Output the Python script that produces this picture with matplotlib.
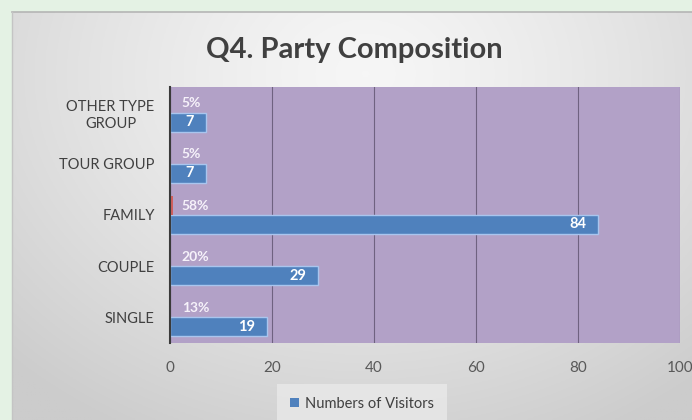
import numpy as np
import matplotlib.pyplot as plt
from matplotlib.patches import Patch

categories = ["SINGLE", "COUPLE", "FAMILY", "TOUR GROUP", "OTHER TYPE\nGROUP"]
visitors = [19, 29, 84, 7, 7]
share = [0.13, 0.20, 0.58, 0.05, 0.05]
share_labels = ["13%", "20%", "58%", "5%", "5%"]
x_ticks = [0, 20, 40, 60, 80, 100]

W, H = 692, 420
plt.rcParams['font.family'] = ['Lato', 'DejaVu Sans']

fig = plt.figure(figsize=(W / 100, H / 100), dpi=100)
fig.patch.set_facecolor('#e4f2e4')

# grey radial panel behind the chart
bg = fig.add_axes([12 / W, 0, 1 - 12 / W, 1 - 12 / H])
yy, xx = np.mgrid[0:1:200j, 0:1:300j]
r = np.sqrt(((xx - 0.52) / 0.75) ** 2 + ((yy - 0.15) / 1.0) ** 2)
r = np.clip(r, 0, 1)
light, dark = np.array([0.965, 0.965, 0.965]), np.array([0.80, 0.80, 0.80])
img = light + (dark - light) * (r[..., None] ** 1.3)
bg.imshow(img, aspect='auto', extent=[0, 1, 0, 1], origin='upper')
bg.plot([0, 1], [1, 1], color='#b5b5b5', lw=1.2, transform=bg.transAxes, clip_on=False)
bg.plot([0, 0], [0, 1], color='#c4c4c4', lw=1.0, transform=bg.transAxes, clip_on=False)
bg.axis('off')

ax = fig.add_axes([170 / W, 1 - 343 / H, 510 / W, 256 / H])
ax.set_facecolor('#b2a1c7')

y = np.arange(len(categories))
h = 0.37
ax.barh(y - h / 2, visitors, height=h, color='#4f81bd', edgecolor='#a9c5ee',
        linewidth=1.0, zorder=3, label='Numbers of Visitors')
ax.barh(y + h / 2, share, height=h, color='#d0605d', linewidth=0, zorder=3)

for yi, v in zip(y, visitors):
    ax.annotate(str(v), (v, yi - h / 2), xytext=(-8.5, 0), textcoords='offset points',
                ha='right', va='center', color='white', fontsize=10.5, fontweight='bold', zorder=4)
for yi, s, lab in zip(y, share, share_labels):
    ax.annotate(lab, (0, yi + h / 2), xytext=(8.5, 0), textcoords='offset points',
                ha='left', va='center', color='#f6f2fa', fontsize=10, fontweight='bold', zorder=4)

ax.set_xlim(0, 100)
ax.set_ylim(-0.5, len(categories) - 0.5)
ax.set_xticks(x_ticks)
ax.set_xticklabels([str(t) for t in x_ticks], color='#595959', fontsize=11)
ax.set_yticks(y)
ax.set_yticklabels(categories, color='#404040', fontsize=10.5, multialignment='center',
                   linespacing=1.25)
ax.tick_params(axis='both', length=0)
ax.tick_params(axis='x', pad=13)
ax.tick_params(axis='y', pad=11)
ax.grid(axis='x', color='#6f6280', linewidth=0.8, zorder=1)
for side in ['top', 'bottom', 'right']:
    ax.spines[side].set_visible(False)
ax.spines['left'].set_color('#3a3a3a')
ax.spines['left'].set_linewidth(1.5)
ax.spines['left'].set_zorder(5)

fig.text(354 / W, 1 - 50 / H, 'Q4. Party Composition', ha='center', va='center',
         fontsize=21, fontweight='bold', color='#404040')

leg = fig.legend(handles=[Patch(facecolor='#4f81bd', edgecolor='none', label='Numbers of Visitors')],
                 loc='center', bbox_to_anchor=(362 / W, 1 - 404 / H), frameon=True,
                 fontsize=10.5, handlelength=0.6, handleheight=0.6, handletextpad=0.4,
                 borderpad=0.9, fancybox=False)
leg.get_frame().set_facecolor('#e9e9e9')
leg.get_frame().set_edgecolor('none')
for t in leg.get_texts():
    t.set_color('#404040')

fig.savefig('out.png', dpi=100, facecolor=fig.get_facecolor())
